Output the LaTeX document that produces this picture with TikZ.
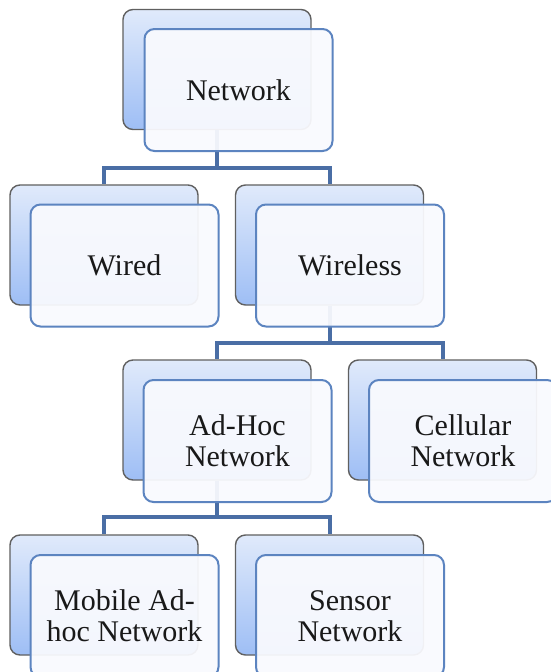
\documentclass[tikz,border=0pt]{standalone}
\usepackage{fontspec}
\setmainfont{Liberation Serif}
\usetikzlibrary{calc}
\definecolor{connc}{RGB}{74,110,165}
\definecolor{frontb}{RGB}{92,132,192}
\definecolor{frontf}{RGB}{249,250,254}
\definecolor{backtop}{RGB}{224,234,251}
\definecolor{backbot}{RGB}{158,190,245}
\definecolor{txt}{RGB}{25,25,25}
\tikzset{
  backbox/.style={draw=gray!75!black, line width=1.4pt, rounded corners=10pt,
    top color=backtop, bottom color=backbot, minimum width=188pt, minimum height=120pt, inner sep=0pt},
  frontbox/.style={draw=frontb, line width=2pt, rounded corners=10pt,
    fill=frontf, fill opacity=0.94, text opacity=1, text=txt,
    minimum width=188pt, minimum height=122pt, inner sep=0pt, align=center,
    font=\fontsize{30}{31}\selectfont},
  conn/.style={draw=connc, line width=4pt}
}
\begin{document}
\begin{tikzpicture}[x=1pt,y=-1pt]
\useasboundingbox (0,0) rectangle (550,672);
\fill[white] (0,0) rectangle (550,672);
% back boxes
\node[backbox] (netB) at (217,69.5) {};
\node[backbox] (wiredB) at (104,245) {};
\node[backbox] (wlB) at (329.5,245) {};
\node[backbox] (adhB) at (217,420) {};
\node[backbox] (cellB) at (442.5,420) {};
\node[backbox] (mobB) at (104,595) {};
\node[backbox] (senB) at (329.5,595) {};
% connectors
\coordinate (j1) at (217,168);
\coordinate (j2) at (329.5,343);
\coordinate (j3) at (217,517);
\draw[conn] (netB.south) -- (j1);
\draw[conn] (j1) -| (wiredB.north);
\draw[conn] (j1) -| (wlB.north);
\draw[conn] (wlB.south) -- (j2);
\draw[conn] (j2) -| (adhB.north);
\draw[conn] (j2) -| (cellB.north);
\draw[conn] (adhB.south) -- (j3);
\draw[conn] (j3) -| (mobB.north);
\draw[conn] (j3) -| (senB.north);
% front boxes
\node[frontbox] (net) at (238.5,90) {Network};
\node[frontbox] (wired) at (124.5,265.5) {Wired};
\node[frontbox] (wl) at (350,265.5) {Wireless};
\node[frontbox] (adh) at (237.5,441) {Ad-Hoc\\Network};
\node[frontbox] (cell) at (463,441) {Cellular\\Network};
\node[frontbox] (mob) at (124.5,616) {Mobile Ad-\\hoc Network};
\node[frontbox] (sen) at (350,616) {Sensor\\Network};
\end{tikzpicture}
\end{document}
